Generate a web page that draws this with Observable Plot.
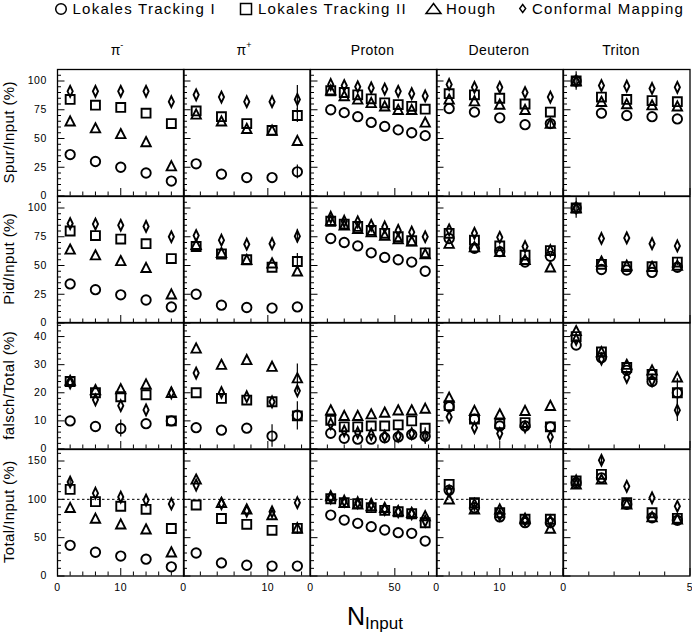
<!DOCTYPE html>
<html><head><meta charset="utf-8">
<script src="https://cdn.jsdelivr.net/npm/d3@7"></script>
<script src="https://cdn.jsdelivr.net/npm/@observablehq/plot@0.6"></script>
<style>
html,body{margin:0;padding:0;background:#fff;}
#wrap{position:relative;width:692px;height:634px;overflow:hidden;font-family:"Liberation Sans",Arial,sans-serif;}
.panel{position:absolute;}
.panel svg{overflow:visible;display:block;}
#overlay{position:absolute;left:0;top:0;pointer-events:none;}
</style></head><body><div id="wrap"></div>
<script>
// ---------- labels ----------
const columns = ["π-", "π+", "Proton", "Deuteron", "Triton"];
const rowTitles = ["Spur/Input (%)", "Pid/Input (%)", "falsch/Total (%)", "Total/Input (%)"];
const seriesNames = ["Lokales Tracking I", "Lokales Tracking II", "Hough", "Conformal Mapping"];

// ---------- x positions (N_Input) per column ----------
const xPiMinus = [2, 6, 10, 14, 18];
const xPiPlus = [1.5, 4.5, 7.5, 10.5, 13.5];
const xProton = [12, 20, 28, 36, 44, 52, 60, 68];
const xDeuteron = [2, 6, 10, 14, 18];
const xTriton = [0.5, 1.5, 2.5, 3.5, 4.5];

// ---------- axes ----------
const xDomains = [[0, 20], [0, 15], [0, 75], [0, 20], [0, 5]];
const xMajorTicks = [[0, 10, 20], [0, 10], [0, 50], [0, 10, 20], [0, 5]];
const xMinorTicks = [
  [2, 4, 6, 8, 12, 14, 16, 18],
  [2, 4, 6, 8, 12, 14],
  [10, 20, 30, 40, 60, 70],
  [2, 4, 6, 8, 12, 14, 16, 18],
  [1, 2, 3, 4]
];
const xTickLabels = [[0, 10], [0, 10], [0, 50], [0, 10], [0, 5]];

const yDomains = [[0, 110], [0, 110], [0, 45], [0, 165]];
const yMajorTicks = [[0, 25, 50, 75, 100], [0, 25, 50, 75, 100], [0, 10, 20, 30, 40], [0, 50, 100, 150]];
const yMinorTicks = [
  [5, 10, 15, 20, 30, 35, 40, 45, 55, 60, 65, 70, 80, 85, 90, 95, 105, 110],
  [5, 10, 15, 20, 30, 35, 40, 45, 55, 60, 65, 70, 80, 85, 90, 95, 105, 110],
  [2, 4, 6, 8, 12, 14, 16, 18, 22, 24, 26, 28, 32, 34, 36, 38, 42, 44],
  [10, 20, 30, 40, 60, 70, 80, 90, 110, 120, 130, 140, 160]
];
const refLine = 100;

// ---------- values: [π-, π+, Proton, Deuteron, Triton] ----------
const spurCircle = [[36, 30, 25, 20, 13], [28, 19, 16, 16, 21], [75, 72.5, 69, 64, 60.5, 57.5, 55, 52.5], [76, 73, 68, 62, 63], [100, 72, 70, 69, 67]];
const spurSquare = [[84, 79, 77, 72, 63], [74, 69, 63, 57, 70], [91.5, 90, 88, 84.5, 81, 79.5, 78, 75.5], [89, 88, 85, 80, 73], [100, 86, 84, 83, 82]];
const spurTriangle = [[65, 59, 54, 47, 26], [71, 65, 58.5, 57, 48], [92, 87, 84, 81, 78, 75, 75, 64], [84, 82.5, 79.5, 75, 63], [100, 82, 80, 79, 78]];
const spurDiamond = [[91, 91, 91, 91, 82], [88, 86, 82, 82, 84], [97, 96, 95, 94, 93, 91, 89, 87], [97, 94.5, 94.5, 90, 86], [100, 96, 95.5, 93.5, 94.5]];

const pidCircle = [[34, 29, 24.5, 20, 14], [25, 15.5, 13.5, 13, 14], [73.5, 70, 67, 61, 57, 55, 53, 45], [73.5, 65, 62, 53, 58], [100, 46.5, 46, 44, 48.5]];
const pidSquare = [[80, 76, 73, 69, 56], [66.5, 60, 55, 48.5, 53.5], [88.5, 86, 84, 80.5, 78, 75, 71.5, 61], [78, 72, 67, 59, 63], [100, 51, 49, 49, 53]];
const pidTriangle = [[64, 59, 54, 48, 25], [68, 61, 55, 52, 45], [89, 85, 82, 79, 76, 73, 71, 60], [69, 66, 62, 55, 48.5], [100, 53.5, 50, 49, 50]];
const pidDiamond = [[86.5, 86, 85, 84, 75], [76, 72, 68.5, 69, 75.5], [92, 88.5, 88, 85, 83.5, 80.5, 79, 75], [81, 78, 74.5, 66.5, 63], [100, 73.5, 74, 69, 67]];

const falschCircle = [[10, 8, 7.3, 9, 10], [7.6, 6.7, 7.4, 4.6, 12], [5.6, 3.8, 3.5, 3.5, 4, 4.3, 5.2, 4.5], [15, 10.6, 8.2, 8.2, 7.9], [37, 32.5, 28, 24, 20]];
const falschSquare = [[24, 20, 18.6, 19.3, 10], [20, 18, 17.4, 16.8, 11.8], [10.2, 7.9, 7.9, 8.2, 8.2, 8.6, 10, 7.4], [15.4, 10.6, 9, 9.4, 7.9], [40, 34.5, 29, 26.5, 20]];
const falschTriangle = [[24.3, 21, 21.3, 23, 20], [35.8, 30, 31.7, 29.3, 25.2], [13.8, 11.8, 11.8, 12.4, 13, 13.8, 13.8, 14.4], [18.3, 13.6, 12.4, 13.6, 15.4], [42, 34.5, 30, 28, 25.5]];
const falschDiamond = [[23.5, 17.5, 15.4, 13.9, 20], [27, 20.1, 18.6, 16.8, 20.7], [9, 6.4, 5.8, 5.2, 4.6, 4.6, 5.5, 4.6], [11.4, 7.6, 5.5, 7.9, 4.3], [39, 32, 25.5, 24.3, 13.8]];

const totalCircle = [[40, 31, 26, 22, 12], [30, 17, 14, 13, 13], [79.5, 73, 68.7, 64.3, 60, 56.5, 55.7, 45.6], [112, 89, 77, 69.5, 69.5], [121.6, 128, 93.5, 76, 72.6]];
const totalSquare = [[113, 97, 91, 87, 62], [92.6, 75, 67.4, 59.6, 62.2], [100.8, 95.6, 94.3, 89.1, 85.7, 83.8, 81.2, 69.5], [119.6, 95.6, 82.5, 74, 74], [124, 132.6, 95.6, 82.5, 75.2]];
const totalTriangle = [[89, 75, 67.4, 61, 31], [126, 95.6, 87, 79.5, 62.2], [104.3, 95.6, 93.5, 91.3, 89, 84.7, 82.5, 78.2], [100, 87, 87, 75, 62], [119.6, 126, 93.5, 77, 74]];
const totalDiamond = [[122.6, 108, 103, 99, 94], [118.6, 94.3, 84.7, 83.8, 95.6], [102, 97.8, 95.6, 93.5, 87, 83.8, 81.2, 71.7], [110.8, 93.5, 79.5, 72.6, 71.7], [124, 151, 117, 102, 91]];

// ---------- error bars: [row, column, x, y, error] ----------
const errorBars = [
  [0, 1, 13.5, 21, 6], [0, 1, 13.5, 70, 6], [0, 1, 13.5, 84, 12], [0, 4, 0.5, 100, 8], [0, 3, 18, 63, 5],
  [1, 1, 13.5, 53.5, 7], [1, 1, 13.5, 75.5, 6], [1, 4, 0.5, 100, 9], [1, 4, 4.5, 53, 3],
  [2, 1, 13.5, 11.8, 5], [2, 1, 13.5, 25.2, 5], [2, 1, 10.5, 4.6, 4], [2, 0, 10, 7.3, 3],
  [2, 4, 4.5, 13.8, 4], [2, 4, 4.5, 20, 5], [2, 2, 68, 4.6, 3],
  [3, 1, 13.5, 62, 8], [3, 0, 2, 122.6, 5], [3, 4, 1.5, 151, 5]
];

// ---------- assemble ----------
const xPositions = [xPiMinus, xPiPlus, xProton, xDeuteron, xTriton];
const rowData = [
  [spurCircle, spurSquare, spurTriangle, spurDiamond],
  [pidCircle, pidSquare, pidTriangle, pidDiamond],
  [falschCircle, falschSquare, falschTriangle, falschDiamond],
  [totalCircle, totalSquare, totalTriangle, totalDiamond]
];

const symCircle = {draw(ctx, size) { const r = Math.sqrt(size / Math.PI); ctx.moveTo(r, 0); ctx.arc(0, 0, r, 0, 2 * Math.PI); ctx.closePath(); }};
const symSquare = {draw(ctx, size) { const r = Math.sqrt(size / Math.PI) * 0.95; ctx.rect(-r, -r, 2 * r, 2 * r); }};
const symTriangle = {draw(ctx, size) { const r = Math.sqrt(size / Math.PI); ctx.moveTo(0, -1.05 * r); ctx.lineTo(1.0 * r, 0.9 * r); ctx.lineTo(-1.0 * r, 0.9 * r); ctx.closePath(); }};
const symDiamond = {draw(ctx, size) { const r = Math.sqrt(size / Math.PI); ctx.moveTo(0, -1.15 * r); ctx.lineTo(0.55 * r, 0); ctx.lineTo(0, 1.15 * r); ctx.lineTo(-0.55 * r, 0); ctx.closePath(); }};
const symbols = [symCircle, symSquare, symTriangle, symDiamond];

const wrap = document.getElementById("wrap");
const W = 126.5, H = 126.5;
const colLeft = [56.5, 183, 309.5, 436, 562.5];
const rowTop = [69, 195.5, 322, 448.5];
const FONT = "'Liberation Sans', Arial, Helvetica, sans-serif";

function place(svg, left, top, w, h, z) {
  const div = document.createElement("div");
  div.className = "panel";
  div.style.left = left + "px";
  div.style.top = top + "px";
  div.style.width = w + "px";
  div.style.height = h + "px";
  div.style.zIndex = String(z);
  div.appendChild(svg);
  wrap.appendChild(div);
}

for (let r = 0; r < 4; r++) {
  for (let c = 0; c < 5; c++) {
    const marks = [];
    marks.push(Plot.tickY(yMinorTicks[r], {y: d => d, insetRight: W - 4, stroke: "black", strokeWidth: 1}));
    marks.push(Plot.tickY(yMajorTicks[r], {y: d => d, insetRight: W - 7.5, stroke: "black", strokeWidth: 1}));
    marks.push(Plot.tickX(xMinorTicks[c], {x: d => d, insetTop: H - 4, stroke: "black", strokeWidth: 1}));
    marks.push(Plot.tickX(xMajorTicks[c], {x: d => d, insetTop: H - 7.5, stroke: "black", strokeWidth: 1}));
    if (r === 3) marks.push(Plot.ruleY([refLine], {stroke: "black", strokeWidth: 1, strokeDasharray: "2.5,2.5"}));
    const errs = errorBars.filter(e => e[0] === r && e[1] === c);
    marks.push(Plot.ruleX(errs, {x: e => e[2], y1: e => e[3] - e[4], y2: e => e[3] + e[4], stroke: "black", strokeWidth: 1.2}));
    for (let s = 0; s < 4; s++) {
      const xs = xPositions[c];
      const vals = rowData[r][s][c];
      const pts = xs.map((x, i) => ({x, y: vals[i], series: seriesNames[s]}));
      marks.push(Plot.dot(pts, {x: "x", y: "y", symbol: symbols[s], r: 4.7, stroke: "black", fill: "none", strokeWidth: 1.9}));
    }
    marks.push(Plot.frame({stroke: "black", strokeWidth: 1.3}));
    if (c === 0) marks.push(Plot.text(yMajorTicks[r], {y: d => d, frameAnchor: "left", dx: -10.5, textAnchor: "end", text: d => String(d), fontSize: 10.5, fill: "black"}));

    const svg = Plot.plot({
      width: W, height: H, margin: 0,
      x: {domain: xDomains[c], axis: null},
      y: {domain: yDomains[r], axis: null},
      style: {overflow: "visible", background: "transparent", fontFamily: FONT, fontSize: "10.5px", color: "black", letterSpacing: "0.6px"},
      marks
    });
    place(svg, colLeft[c], rowTop[r], W, H, r * 5 + c + 1);
  }
}

// ---------- overlay: legend, titles ----------
const colCenters = [117, 244, 372.5, 499, 621];
const rowCenters = rowTop.map(t => t + H / 2);
let o = `<svg id="overlay" width="692" height="634" xmlns="http://www.w3.org/2000/svg" font-family="${FONT}" style="z-index:50">`;
o += `<g font-size="15" letter-spacing="1.25" fill="black">`;
o += `<circle cx="61" cy="9" r="5.3" fill="none" stroke="black" stroke-width="1.5"/>`;
o += `<text x="72.5" y="14">${seriesNames[0]}</text>`;
o += `<rect x="240.5" y="3.5" width="11" height="11" fill="none" stroke="black" stroke-width="1.5"/>`;
o += `<text x="258" y="14">${seriesNames[1]}</text>`;
o += `<path d="M433.5,3.5L441,13.5L426,13.5Z" fill="none" stroke="black" stroke-width="1.5"/>`;
o += `<text x="446" y="14">${seriesNames[2]}</text>`;
o += `<path d="M522.7,4.5L525.7,8.5L522.7,12.5L519.7,8.5Z" fill="none" stroke="black" stroke-width="1.4"/>`;
o += `<text x="532" y="14">${seriesNames[3]}</text>`;
o += `</g>`;
columns.forEach((t, i) => {
  if (t.startsWith("π")) {
    o += `<text x="${colCenters[i]}" y="55" font-size="14" text-anchor="middle" fill="black">π<tspan dy="-7" font-size="9">${t.slice(1)}</tspan></text>`;
  } else {
    o += `<text x="${colCenters[i]}" y="55" font-size="14" text-anchor="middle" letter-spacing="0.4" fill="black">${t}</text>`;
  }
});
rowTitles.forEach((t, i) => {
  o += `<text transform="translate(13.5,${rowCenters[i]}) rotate(-90)" font-size="15" text-anchor="middle" letter-spacing="0.4" fill="black">${t}</text>`;
});
o += `<text x="347" y="625" font-size="25" fill="black">N<tspan font-size="17" dy="4">Input</tspan></text>`;
o += `</svg>`;
wrap.insertAdjacentHTML("beforeend", o);

// ---------- bottom x tick labels: one strip per column, same x scale ----------
for (let c = 0; c < 5; c++) {
  const strip = Plot.plot({
    width: W, height: 20, margin: 0,
    x: {domain: xDomains[c], axis: null},
    y: {domain: [0, 1], axis: null},
    style: {overflow: "visible", background: "transparent", fontFamily: FONT, fontSize: "10.5px", color: "black", letterSpacing: "0.6px"},
    marks: [
      Plot.text(xTickLabels[c], {x: d => d, frameAnchor: "top", dy: 8, textAnchor: "middle", text: d => String(d), fontSize: 10.5, fill: "black"})
    ]
  });
  place(strip, colLeft[c], rowTop[3] + H, W, 20, 200 + c);
}
</script></body></html>
